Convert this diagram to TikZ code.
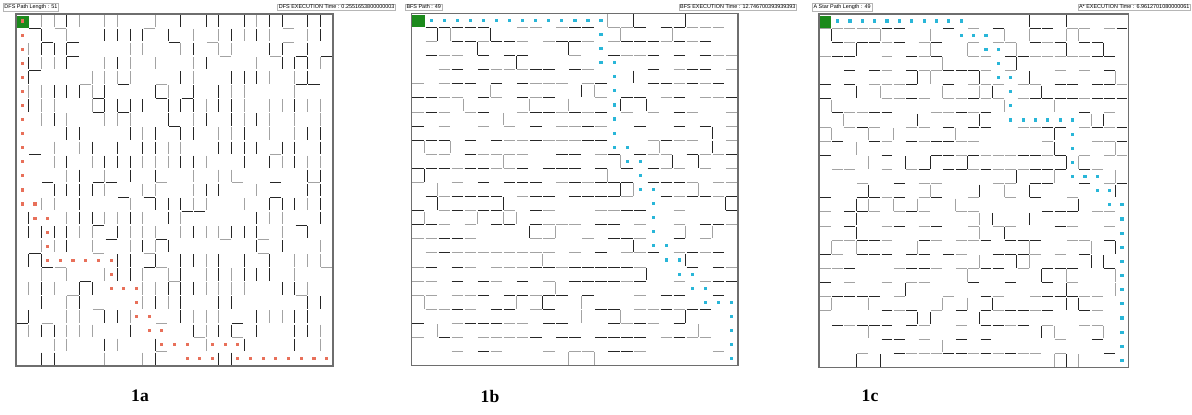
\documentclass[tikz,border=0pt]{standalone}
\usepackage{fontspec}
\setmainfont{Liberation Serif}
\setsansfont{Liberation Sans}
\usetikzlibrary{positioning}
\definecolor{WallDark}{HTML}{262626}
\definecolor{WallGray}{HTML}{A3A3A3}
\definecolor{FrameGray}{HTML}{6E6E6E}
\definecolor{StartGreen}{HTML}{1C8A1C}
\definecolor{DfsRed}{HTML}{E8705A}
\definecolor{BfsCyan}{HTML}{29B6D8}

% solution paths, cell column/row
\def\dfspath{0/0,0/1,0/2,0/3,0/4,0/5,0/6,0/7,0/8,0/9,0/10,0/11,0/12,0/13,1/13,1/14,2/14,2/15,2/16,2/17,3/17,4/17,5/17,6/17,7/17,7/18,7/19,8/19,9/19,9/20,9/21,10/21,10/22,11/22,11/23,12/23,13/23,13/24,14/24,15/24,15/23,16/23,17/23,17/24,18/24,19/24,20/24,21/24,22/24,23/24,24/24}
\def\bfspath{0/0,1/0,2/0,3/0,4/0,5/0,6/0,7/0,8/0,9/0,10/0,11/0,12/0,13/0,14/0,14/1,14/2,14/3,15/3,15/4,15/5,15/6,15/7,15/8,15/9,16/9,16/10,17/10,17/11,17/12,18/12,18/13,18/14,18/15,18/16,19/16,19/17,20/17,20/18,21/18,21/19,22/19,22/20,23/20,24/20,24/21,24/22,24/23,24/24}
\def\astarpath{0/0,1/0,2/0,3/0,4/0,5/0,6/0,7/0,8/0,9/0,10/0,11/0,11/1,12/1,13/1,13/2,14/2,14/3,14/4,15/4,15/5,15/6,15/7,16/7,17/7,18/7,19/7,20/7,20/8,20/9,20/10,20/11,21/11,22/11,22/12,23/12,23/13,24/13,24/14,24/15,24/16,24/17,24/18,24/19,24/20,24/21,24/22,24/23,24/24}

% keep the walls off the path
\newcommand{\markpath}[2]{%
  \foreach \px/\py [remember=\px as \qx (initially 0), remember=\py as \qy (initially 0)] in #2 {%
    \ifnum\py=\qy
      \pgfmathtruncatemacro{\qm}{max(\px,\qx)}%
      \expandafter\xdef\csname pe#1v\qm-\py\endcsname{}%
    \else
      \pgfmathtruncatemacro{\qm}{max(\py,\qy)}%
      \expandafter\xdef\csname pe#1h\px-\qm\endcsname{}%
    \fi
  }%
}

% #1 tag, #2 share of vertical walls, #3 share of horizontal walls
\newcommand{\mazewalls}[3]{%
  \foreach \wr in {0,...,24}{%
    \foreach \wk in {1,...,24}{%
      \pgfmathsetmacro{\wallrnd}{rnd}%
      \pgfmathsetmacro{\wallshade}{rnd}%
      \ifcsname pe#1v\wk-\wr\endcsname\else
        \ifdim\wallrnd pt<#2pt
          \ifdim\wallshade pt<0.5pt\def\wallcol{WallDark}\else\def\wallcol{WallGray}\fi
          \draw[wall,\wallcol] (\wk,\wr+.06) -- (\wk,\wr+.94);
        \fi
      \fi
    }%
  }%
  \foreach \wr in {1,...,24}{%
    \foreach \wk in {0,...,24}{%
      \pgfmathsetmacro{\wallrnd}{rnd}%
      \pgfmathsetmacro{\wallshade}{rnd}%
      \ifcsname pe#1h\wk-\wr\endcsname\else
        \ifdim\wallrnd pt<#3pt
          \ifdim\wallshade pt<0.5pt\def\wallcol{WallDark}\else\def\wallcol{WallGray}\fi
          \draw[wall,\wallcol] (\wk+.06,\wr) -- (\wk+.94,\wr);
        \fi
      \fi
    }%
  }%
}

\begin{document}
\begin{tikzpicture}[x=0.02cm,y=-0.02cm,
    wall/.style={line width=0.55pt},
    mazeframe/.style={draw=FrameGray,line width=0.8pt},
    headbox/.style={draw=FrameGray!50,line width=0.3pt,inner sep=0.7pt,
      font=\sffamily\fontsize{3.1}{3.5}\selectfont},
    caption/.style={font=\bfseries\fontsize{10}{12}\selectfont}]
  \useasboundingbox (0,0) rectangle (1192,414);
  \pgfmathsetseed{11}
  \markpath{a}{\dfspath}
  \markpath{b}{\bfspath}
  \markpath{c}{\astarpath}

  % DFS
  \begin{scope}[shift={(16,14)},x=0.2536cm,y=-0.2816cm]
    \mazewalls{a}{0.6}{0.12}
    \draw[mazeframe] (0,0) rectangle (25,25);
    \fill[StartGreen] (0.05,0.12) rectangle (1,1);
    \foreach \px/\py in \dfspath {
      \fill[DfsRed] (\px+.5,\py+.5) +(-0.9pt,-0.9pt) rectangle +(0.9pt,0.9pt);
    }
  \end{scope}

  % BFS
  \begin{scope}[shift={(411.7,13.3)},x=0.2612cm,y=-0.282cm]
    \mazewalls{b}{0.12}{0.64}
    \draw[mazeframe] (0,0) rectangle (25,25);
    \fill[StartGreen] (0.05,0.12) rectangle (1,1);
    \foreach \px/\py in \bfspath {
      \ifnum\px\py=0\relax\else
        \fill[BfsCyan] (\px+.5,\py+.5) +(-0.9pt,-0.9pt) rectangle +(0.9pt,0.9pt);
      \fi
    }
  \end{scope}

  % A star
  \begin{scope}[shift={(819,14)},x=0.2474cm,y=-0.2828cm]
    \mazewalls{c}{0.15}{0.6}
    \draw[mazeframe] (0,0) rectangle (25,25);
    \fill[StartGreen] (0.05,0.12) rectangle (1,1);
    \foreach \px/\py in \astarpath {
      \ifnum\px\py=0\relax\else
        \fill[BfsCyan] (\px+.5,\py+.5) +(-0.9pt,-0.9pt) rectangle +(0.9pt,0.9pt);
      \fi
    }
  \end{scope}

  \node[headbox,anchor=west] (dfslen) at (3,7) {DFS Path Length : 51};
  \node[headbox,anchor=east] (dfstime) at (396,7) {DFS EXECUTION Time : 0.2551653800000003};
  \node[headbox,anchor=west] (bfslen) at (405,7) {BFS Path : 49};
  \node[headbox,anchor=east] (bfstime) at (797,7) {BFS EXECUTION Time : 12.746700393939393};
  \node[headbox,anchor=west] (astarlen) at (812,7) {A Star Path Length : 49};
  \node[headbox,anchor=east] (astartime) at (1191,7) {A* EXECUTION Time : 6.9612701080000061};

  \node[caption] (capa) at (140,396) {1a};
  \node[caption] (capb) at (490,396) {1b};
  \node[caption] (capc) at (870,396) {1c};
\end{tikzpicture}
\end{document}
